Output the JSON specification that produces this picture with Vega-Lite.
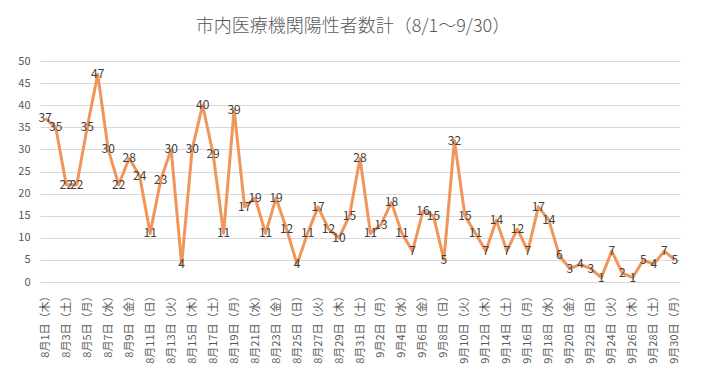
{
  "$schema": "https://vega.github.io/schema/vega-lite/v6.json",
  "width": 640,
  "height": 221,
  "autosize": "none",
  "padding": {"left": 40, "top": 61, "right": 33, "bottom": 96},
  "background": "white",
  "title": {
    "text": "市内医療機関陽性者数計（8/1～9/30）",
    "font": "Noto Sans CJK JP",
    "fontSize": 18,
    "fontWeight": 300,
    "color": "#595959",
    "offset": 19,
    "dx": -7
  },
  "config": {
    "view": {"stroke": null},
    "font": "Noto Sans CJK JP"
  },
  "data": {
    "values": [
      {"d": "8月1日（木）", "v": 37},
      {"d": "8月2日（金）", "v": 35},
      {"d": "8月3日（土）", "v": 22},
      {"d": "8月4日（日）", "v": 22},
      {"d": "8月5日（月）", "v": 35},
      {"d": "8月6日（火）", "v": 47},
      {"d": "8月7日（水）", "v": 30},
      {"d": "8月8日（木）", "v": 22},
      {"d": "8月9日（金）", "v": 28},
      {"d": "8月10日（土）", "v": 24},
      {"d": "8月11日（日）", "v": 11},
      {"d": "8月12日（月）", "v": 23},
      {"d": "8月13日（火）", "v": 30},
      {"d": "8月14日（水）", "v": 4},
      {"d": "8月15日（木）", "v": 30},
      {"d": "8月16日（金）", "v": 40},
      {"d": "8月17日（土）", "v": 29},
      {"d": "8月18日（日）", "v": 11},
      {"d": "8月19日（月）", "v": 39},
      {"d": "8月20日（火）", "v": 17},
      {"d": "8月21日（水）", "v": 19},
      {"d": "8月22日（木）", "v": 11},
      {"d": "8月23日（金）", "v": 19},
      {"d": "8月24日（土）", "v": 12},
      {"d": "8月25日（日）", "v": 4},
      {"d": "8月26日（月）", "v": 11},
      {"d": "8月27日（火）", "v": 17},
      {"d": "8月28日（水）", "v": 12},
      {"d": "8月29日（木）", "v": 10},
      {"d": "8月30日（金）", "v": 15},
      {"d": "8月31日（土）", "v": 28},
      {"d": "9月1日（日）", "v": 11},
      {"d": "9月2日（月）", "v": 13},
      {"d": "9月3日（火）", "v": 18},
      {"d": "9月4日（水）", "v": 11},
      {"d": "9月5日（木）", "v": 7},
      {"d": "9月6日（金）", "v": 16},
      {"d": "9月7日（土）", "v": 15},
      {"d": "9月8日（日）", "v": 5},
      {"d": "9月9日（月）", "v": 32},
      {"d": "9月10日（火）", "v": 15},
      {"d": "9月11日（水）", "v": 11},
      {"d": "9月12日（木）", "v": 7},
      {"d": "9月13日（金）", "v": 14},
      {"d": "9月14日（土）", "v": 7},
      {"d": "9月15日（日）", "v": 12},
      {"d": "9月16日（月）", "v": 7},
      {"d": "9月17日（火）", "v": 17},
      {"d": "9月18日（水）", "v": 14},
      {"d": "9月19日（木）", "v": 6},
      {"d": "9月20日（金）", "v": 3},
      {"d": "9月21日（土）", "v": 4},
      {"d": "9月22日（日）", "v": 3},
      {"d": "9月23日（月）", "v": 1},
      {"d": "9月24日（火）", "v": 7},
      {"d": "9月25日（水）", "v": 2},
      {"d": "9月26日（木）", "v": 1},
      {"d": "9月27日（金）", "v": 5},
      {"d": "9月28日（土）", "v": 4},
      {"d": "9月29日（日）", "v": 7},
      {"d": "9月30日（月）", "v": 5}
    ]
  },
  "encoding": {
    "x": {
      "field": "d",
      "type": "ordinal",
      "sort": null,
      "scale": {"type": "point", "padding": 0.5},
      "axis": {
        "title": null,
        "values": ["8月1日（木）","8月3日（土）","8月5日（月）","8月7日（水）","8月9日（金）","8月11日（日）","8月13日（火）","8月15日（木）","8月17日（土）","8月19日（月）","8月21日（水）","8月23日（金）","8月25日（日）","8月27日（火）","8月29日（木）","8月31日（土）","9月2日（月）","9月4日（水）","9月6日（金）","9月8日（日）","9月10日（火）","9月12日（木）","9月14日（土）","9月16日（月）","9月18日（水）","9月20日（金）","9月22日（日）","9月24日（火）","9月26日（木）","9月28日（土）","9月30日（月）"],
        "labelAngle": -90,
        "labelFontSize": 11,
        "labelColor": "#595959",
        "labelPadding": 8,
        "ticks": false,
        "domain": true,
        "domainColor": "#d9d9d9",
        "grid": false
      }
    },
    "y": {
      "field": "v",
      "type": "quantitative",
      "scale": {"domain": [0, 50], "nice": false},
      "axis": {
        "title": null,
        "values": [0, 5, 10, 15, 20, 25, 30, 35, 40, 45, 50],
        "labelFontSize": 11,
        "labelColor": "#595959",
        "labelPadding": 10,
        "ticks": false,
        "domain": false,
        "gridColor": "#d9d9d9",
        "gridWidth": 1
      }
    }
  },
  "layer": [
    {
      "mark": {"type": "line", "color": "#F0965A", "strokeWidth": 3, "strokeJoin": "round"}
    },
    {
      "mark": {"type": "text", "fontSize": 12, "color": "#404040", "align": "center", "baseline": "middle"},
      "encoding": {"text": {"field": "v", "type": "quantitative"}}
    }
  ]
}
